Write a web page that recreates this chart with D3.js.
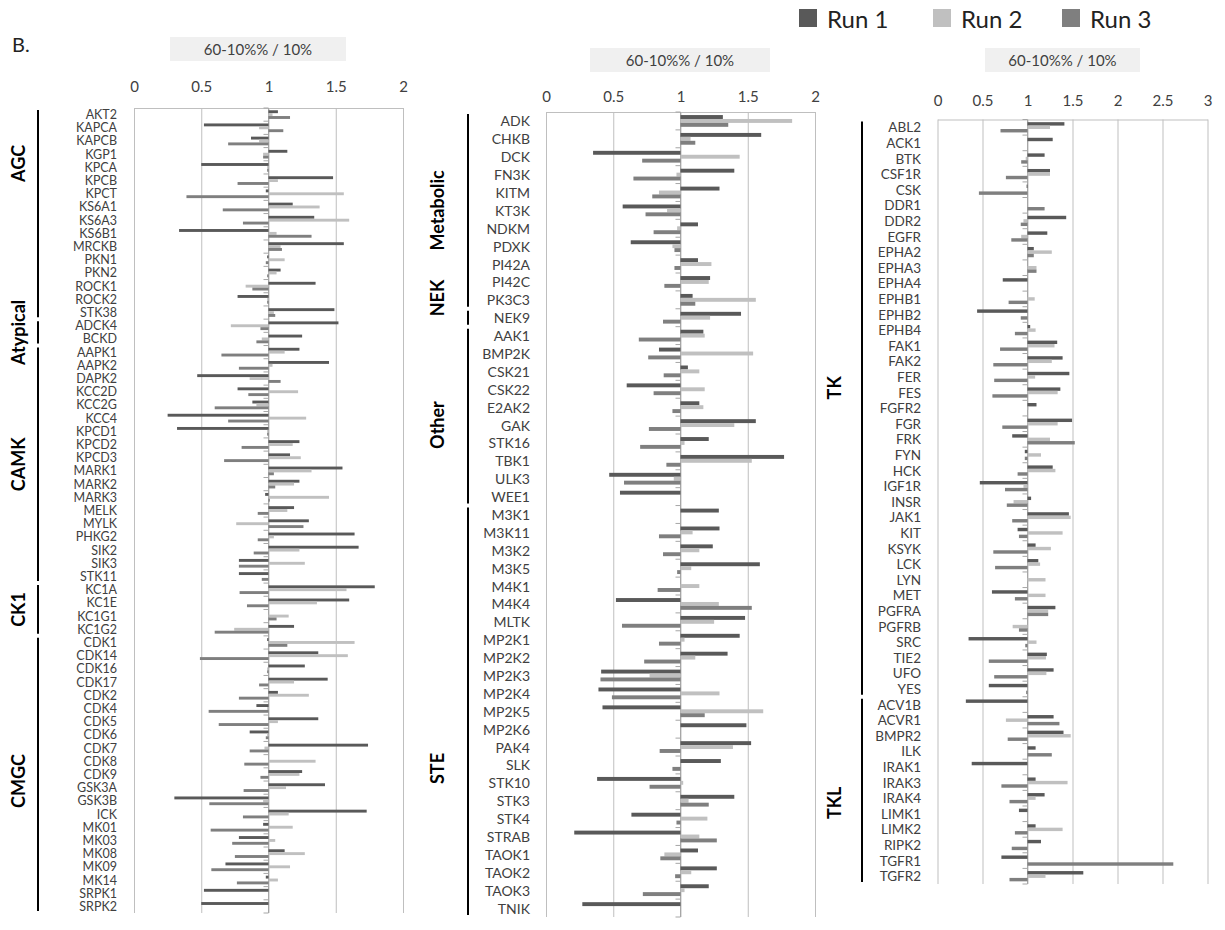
<!DOCTYPE html>
<html>
<head>
<meta charset="utf-8">
<script src="https://cdn.jsdelivr.net/npm/d3@7"></script>
<style>
    body { margin: 0; background: #fff; }
    svg { font-family: Lato, 'Open Sans', sans-serif; }
</style>
</head>
<body>
<svg id="chart" width="1225" height="930"></svg>
<script>
const runNames = ['Run 1', 'Run 2', 'Run 3'];
const runColors = ['#595959', '#c0c0c0', '#7f7f7f'];
const panelTitle = '60-10%% / 10%';

// panel 1
const kinases1 = ['AKT2','KAPCA','KAPCB','KGP1','KPCA','KPCB','KPCT','KS6A1','KS6A3','KS6B1','MRCKB','PKN1','PKN2','ROCK1','ROCK2','STK38',
    'ADCK4','BCKD','AAPK1','AAPK2','DAPK2','KCC2D','KCC2G','KCC4','KPCD1','KPCD2','KPCD3','MARK1','MARK2','MARK3','MELK','MYLK','PHKG2',
    'SIK2','SIK3','STK11','KC1A','KC1E','KC1G1','KC1G2','CDK1','CDK14','CDK16','CDK17','CDK2','CDK4','CDK5','CDK6','CDK7','CDK8','CDK9',
    'GSK3A','GSK3B','ICK','MK01','MK03','MK08','MK09','MK14','SRPK1','SRPK2'];
const run1a = [1.07,0.52,0.87,1.14,0.50,1.48,0.98,1.18,1.34,0.335,1.56,0.99,1.09,1.35,0.77,1.49,
    1.52,1.25,1.23,1.45,0.47,0.77,0.88,0.25,0.32,1.23,1.16,1.55,1.23,0.975,1.19,1.30,1.64,
    1.67,0.78,0.78,1.79,1.60,1.00,1.19,0.99,1.37,1.27,1.44,1.07,0.91,1.37,0.86,1.74,1.00,1.25,
    1.42,0.30,1.73,0.96,0.78,1.12,0.68,0.98,0.52,0.50];
const run2a = [1.03,0.93,0.93,0.96,0.99,1.07,1.56,1.38,1.60,1.06,1.09,1.12,1.06,0.83,0.99,1.04,
    0.72,0.95,1.12,1.03,0.86,1.22,0.91,1.28,0.99,1.18,1.24,1.32,1.19,1.45,1.14,0.76,1.04,
    1.23,1.27,1.00,1.58,1.36,1.15,0.745,1.64,1.59,0.99,1.19,1.30,0.99,1.07,0.99,0.97,1.35,1.23,
    1.13,0.96,1.15,1.18,1.05,1.27,1.16,1.07,1.00,1.00];
const run3a = [1.16,1.11,0.70,0.96,0.99,0.77,0.39,0.66,0.81,1.32,1.10,0.98,0.99,0.88,0.99,1.05,
    0.94,0.91,0.65,0.78,1.09,0.85,0.60,0.70,0.99,0.80,0.67,1.04,1.05,1.01,0.92,1.26,0.92,
    0.89,0.78,0.95,0.785,0.84,1.06,0.60,1.14,0.49,0.99,0.93,0.78,0.555,0.63,0.98,0.86,0.82,0.94,
    0.815,0.56,0.81,0.57,0.73,0.75,0.575,0.765,1.00,1.00];
const groupNames1 = ['AGC', 'Atypical', 'CAMK', 'CK1', 'CMGC'];
const groupFirst1 = ['AKT2', 'ADCK4', 'AAPK1', 'KC1A', 'CDK1'];
const groupLast1 = ['STK38', 'BCKD', 'STK11', 'KC1G2', 'SRPK2'];

// panel 2
const kinases2 = ['ADK','CHKB','DCK','FN3K','KITM','KT3K','NDKM','PDXK','PI42A','PI42C','PK3C3','NEK9','AAK1','BMP2K','CSK21','CSK22',
    'E2AK2','GAK','STK16','TBK1','ULK3','WEE1','M3K1','M3K11','M3K2','M3K5','M4K1','M4K4','MLTK','MP2K1','MP2K2','MP2K3','MP2K4',
    'MP2K5','MP2K6','PAK4','SLK','STK10','STK3','STK4','STRAB','TAOK1','TAOK2','TAOK3','TNIK'];
const run1b = [1.315,1.60,0.35,1.40,1.29,0.57,1.13,0.63,1.13,1.22,1.09,1.45,1.17,0.84,1.055,0.60,
    1.14,1.56,1.21,1.77,0.47,0.55,1.285,1.29,1.24,1.59,1.00,0.52,1.48,1.44,1.35,0.41,0.39,
    0.42,1.49,1.525,1.30,0.38,1.40,0.635,0.21,1.13,1.27,1.21,0.27];
const run2b = [1.83,1.075,1.44,0.97,0.84,0.90,0.975,0.94,1.23,1.21,1.56,1.22,1.18,1.54,1.14,1.18,
    1.17,1.40,1.03,1.53,0.95,1.00,1.00,1.09,1.14,1.08,1.14,1.285,1.25,1.03,1.11,0.77,1.29,
    1.615,1.00,1.39,1.00,1.02,1.06,1.20,1.14,0.88,1.08,1.03,1.00];
const run3b = [1.355,1.11,0.715,0.65,0.79,0.74,0.80,0.955,0.955,0.88,1.11,0.87,0.69,0.76,0.875,0.80,
    0.94,0.765,0.70,0.895,0.58,1.00,1.00,0.84,0.87,0.975,0.83,1.53,0.565,0.84,0.73,0.405,0.49,
    1.18,1.00,0.845,0.94,0.77,1.21,0.97,1.27,0.85,0.96,0.72,1.00];
const groupNames2 = ['Metabolic', 'NEK', 'Other', 'STE'];
const groupFirst2 = ['ADK', 'NEK9', 'AAK1', 'M3K1'];
const groupLast2 = ['PK3C3', 'NEK9', 'WEE1', 'TNIK'];

// panel 3
const kinases3 = ['ABL2','ACK1','BTK','CSF1R','CSK','DDR1','DDR2','EGFR','EPHA2','EPHA3','EPHA4','EPHB1','EPHB2','EPHB4','FAK1','FAK2',
    'FER','FES','FGFR2','FGR','FRK','FYN','HCK','IGF1R','INSR','JAK1','KIT','KSYK','LCK','LYN','MET','PGFRA','PGFRB','SRC','TIE2',
    'UFO','YES','ACV1B','ACVR1','BMPR2','ILK','IRAK1','IRAK3','IRAK4','LIMK1','LIMK2','RIPK2','TGFR1','TGFR2'];
const run1c = [1.41,1.28,1.19,1.25,0.99,1.00,1.43,1.22,1.07,1.00,0.725,1.00,0.44,1.03,1.33,1.39,
    1.465,1.365,1.10,1.495,0.83,0.97,1.28,0.47,1.04,1.46,0.89,1.09,1.12,1.00,0.605,1.31,1.00,0.345,1.215,
    1.29,0.57,0.315,1.29,1.40,1.09,0.38,1.09,1.19,0.905,1.09,1.15,0.71,1.62];
const run2c = [1.25,1.00,0.98,1.25,1.00,1.00,0.955,0.93,1.27,1.10,1.00,1.08,1.00,1.09,1.30,1.27,
    1.085,1.335,1.01,1.335,1.25,1.15,1.31,0.955,0.845,1.48,1.39,1.26,1.14,1.20,1.20,1.23,0.835,1.10,1.205,
    1.21,1.00,1.00,0.76,1.48,1.00,1.00,1.445,1.09,1.00,1.39,1.00,1.00,1.20];
const run3c = [0.70,1.00,0.93,0.76,0.46,1.19,0.925,0.82,1.07,1.10,1.00,0.79,0.925,0.86,0.695,0.62,
    0.63,0.61,1.00,0.72,1.525,0.97,0.89,0.75,0.77,0.83,0.905,0.62,0.64,1.00,0.86,1.23,0.905,0.975,0.57,
    0.63,0.985,1.00,1.355,0.78,1.27,1.00,0.71,0.80,1.00,0.86,0.825,2.62,0.80];
const groupNames3 = ['TK', 'TKL'];
const groupFirst3 = ['ABL2', 'ACV1B'];
const groupLast3 = ['YES', 'TGFR2'];

const ticks2 = [0, 0.5, 1, 1.5, 2];
const ticks3 = [0, 0.5, 1, 1.5, 2, 2.5, 3];


class RatioPanel {

    constructor(_config) {
        this.config = {
            parentElement: _config.parentElement,
            categories: _config.categories,
            runs: _config.runs,
            groups: _config.groups,
            groupRows: _config.groupRows,   // row index where each group label sits (null = centred)
            ticks: _config.ticks,
            xRange: _config.xRange,
            yRange: _config.yRange,
            tickPadding: _config.tickPadding,
            labelX: _config.labelX,
            labelSize: _config.labelSize || 14,
            bracketX: _config.bracketX,
            groupLabelX: _config.groupLabelX,
            titleBox: _config.titleBox
        }

        this.initVis();
    }

    initVis() {
        let vis = this;
        let cfg = vis.config;

        vis.g = d3.select(cfg.parentElement).append('g');

        vis.xScale = d3.scaleLinear()
            .domain([0, d3.max(cfg.ticks)])
            .range(cfg.xRange);

        vis.yScale = d3.scaleBand()
            .domain(cfg.categories)
            .range(cfg.yRange)
            .paddingInner(0)
            .paddingOuter(0);

        vis.runScale = d3.scaleBand()
            .domain(runNames)
            .range([0, vis.yScale.bandwidth()])
            .paddingInner(0)
            .paddingOuter(0.78);

        vis.height = cfg.yRange[1] - cfg.yRange[0];

        // title box
        let tb = cfg.titleBox;
        vis.g.append('rect')
            .attr('x', tb.x).attr('y', tb.y)
            .attr('width', tb.w).attr('height', tb.h)
            .attr('fill', '#f0f0f0');
        vis.g.append('text')
            .attr('x', tb.x + tb.w / 2)
            .attr('y', tb.y + tb.h / 2)
            .attr('text-anchor', 'middle')
            .attr('dominant-baseline', 'central')
            .style('font-size', '15px')
            .style('fill', '#404040')
            .text(panelTitle);

        // x axis on top with grid
        vis.xAxis = d3.axisTop(vis.xScale)
            .tickValues(cfg.ticks)
            .tickFormat(d => String(d))
            .tickSizeInner(-vis.height)
            .tickSizeOuter(0)
            .tickPadding(cfg.tickPadding);

        vis.xAxisGroup = vis.g.append('g')
            .attr('transform', `translate(0, ${cfg.yRange[0]})`)
            .call(vis.xAxis);
        vis.xAxisGroup.select('.domain').attr('stroke', '#bfbfbf');
        vis.xAxisGroup.selectAll('.tick line').attr('stroke', '#bfbfbf');
        vis.xAxisGroup.selectAll('.tick text')
            .style('font-size', '15px')
            .style('font-family', 'Lato, sans-serif')
            .attr('fill', '#404040');

        // category axis crossing at 1
        let x1 = vis.xScale(1);
        vis.g.append('line')
            .attr('x1', x1).attr('x2', x1)
            .attr('y1', cfg.yRange[0]).attr('y2', cfg.yRange[1])
            .attr('stroke', '#a6a6a6');
        let bounds = cfg.categories.map(c => vis.yScale(c)).concat([cfg.yRange[1]]);
        vis.g.selectAll('.cat-tick')
            .data(bounds)
            .join('line')
                .attr('class', 'cat-tick')
                .attr('x1', x1 - 5).attr('x2', x1)
                .attr('y1', d => d).attr('y2', d => d)
                .attr('stroke', '#a6a6a6');

        // bars
        let rows = [];
        cfg.categories.forEach((c, i) => {
            runNames.forEach((r, j) => rows.push({cat: c, run: r, idx: j, value: cfg.runs[j][i]}));
        });
        vis.g.selectAll('.bar')
            .data(rows)
            .join('rect')
                .attr('class', 'bar')
                .attr('x', d => vis.xScale(Math.min(d.value, 1)))
                .attr('width', d => Math.abs(vis.xScale(d.value) - x1))
                .attr('y', d => vis.yScale(d.cat) + vis.runScale(d.run))
                .attr('height', vis.runScale.bandwidth())
                .attr('fill', d => runColors[d.idx]);

        // category labels
        vis.g.selectAll('.cat-label')
            .data(cfg.categories)
            .join('text')
                .attr('class', 'cat-label')
                .attr('x', cfg.labelX)
                .attr('y', d => vis.yScale(d) + vis.yScale.bandwidth() / 2)
                .attr('text-anchor', 'end')
                .attr('dominant-baseline', 'central')
                .style('font-size', cfg.labelSize + 'px')
                .style('fill', '#404040')
                .text(d => d);

        // kinase group brackets
        let step = vis.yScale.step();
        let groups = cfg.groups.names.map((n, i) => ({
            name: n,
            top: vis.yScale(cfg.groups.first[i]) + 2,
            bottom: vis.yScale(cfg.groups.last[i]) + vis.yScale.bandwidth() - 2,
            row: cfg.groupRows[i]
        }));
        vis.g.selectAll('.bracket')
            .data(groups)
            .join('line')
                .attr('class', 'bracket')
                .attr('x1', cfg.bracketX).attr('x2', cfg.bracketX)
                .attr('y1', d => d.top).attr('y2', d => d.bottom)
                .attr('stroke', '#000')
                .attr('stroke-width', 2);
        vis.g.selectAll('.group-label')
            .data(groups)
            .join('text')
                .attr('class', 'group-label')
                .attr('transform', d => {
                    let y = d.row != null ? cfg.yRange[0] + (d.row + 0.5) * step : (d.top + d.bottom) / 2;
                    return `translate(${cfg.groupLabelX}, ${y}) rotate(-90)`;
                })
                .attr('text-anchor', 'middle')
                .attr('dominant-baseline', 'central')
                .style('font-size', '18px')
                .style('font-weight', 'bold')
                .text(d => d.name);
    }
}

let svg = d3.select('#chart');

svg.append('text')
    .attr('x', 12).attr('y', 52)
    .style('font-size', '20px')
    .style('fill', '#222')
    .text('B.');

// legend
let legend = svg.append('g').attr('transform', 'translate(799, 18)');
let legendX = [0, 134, 263];
runNames.forEach((r, i) => {
    legend.append('rect')
        .attr('x', legendX[i]).attr('y', -9)
        .attr('width', 18).attr('height', 18)
        .attr('fill', runColors[i]);
    legend.append('text')
        .attr('x', legendX[i] + 28).attr('y', 0)
        .attr('dominant-baseline', 'central')
        .style('font-size', '24px')
        .style('fill', '#222')
        .text(r);
});

new RatioPanel({
    parentElement: '#chart',
    categories: kinases1,
    runs: [run1a, run2a, run3a],
    groups: {names: groupNames1, first: groupFirst1, last: groupLast1},
    groupRows: [3.7, null, null, null, 50.5],
    ticks: ticks2,
    xRange: [134, 403],
    yRange: [108, 913],
    tickPadding: 16,
    labelX: 117,
    labelSize: 12.5,
    bracketX: 38,
    groupLabelX: 18,
    titleBox: {x: 170, y: 37, w: 176, h: 24}
});

new RatioPanel({
    parentElement: '#chart',
    categories: kinases2,
    runs: [run1b, run2b, run3b],
    groups: {names: groupNames2, first: groupFirst2, last: groupLast2},
    groupRows: [5, 9.9, 17, 36.2],
    ticks: ticks2,
    xRange: [546, 815],
    yRange: [112, 917],
    tickPadding: 10,
    labelX: 530,
    labelSize: 14,
    bracketX: 468,
    groupLabelX: 437,
    titleBox: {x: 590, y: 48, w: 180, h: 24}
});

new RatioPanel({
    parentElement: '#chart',
    categories: kinases3,
    runs: [run1c, run2c, run3c],
    groups: {names: groupNames3, first: groupFirst3, last: groupLast3},
    groupRows: [16.7, 43.3],
    ticks: ticks3,
    xRange: [937.5, 1207.5],
    yRange: [119.5, 884],
    tickPadding: 14,
    labelX: 921,
    labelSize: 13.5,
    bracketX: 862,
    groupLabelX: 834,
    titleBox: {x: 985, y: 48, w: 155, h: 24}
});
</script>
</body>
</html>
